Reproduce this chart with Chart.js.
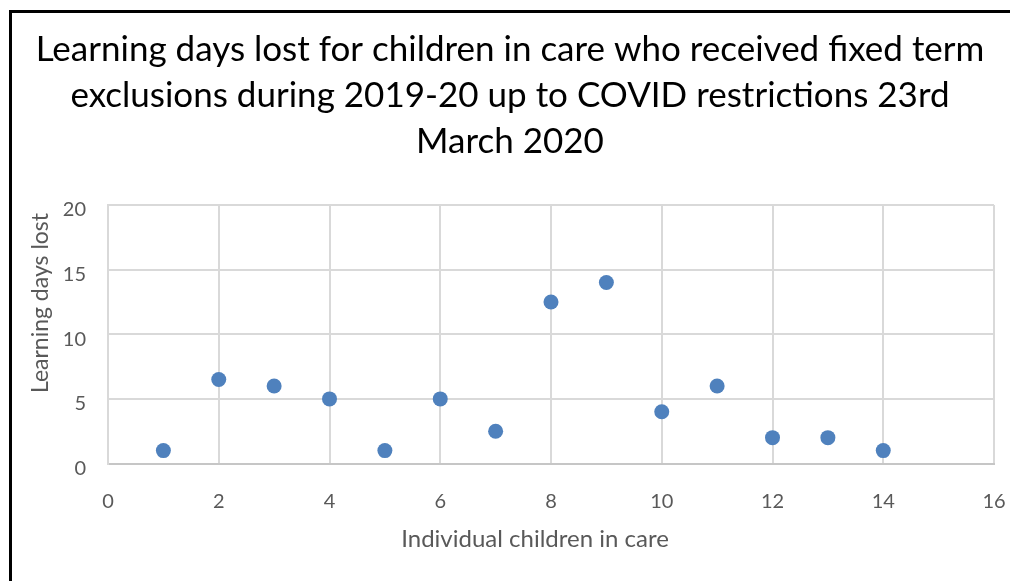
<!DOCTYPE html>
<html>
<head>
<meta charset="utf-8">
<script src="https://cdn.jsdelivr.net/npm/chart.js@4/dist/chart.umd.min.js"></script>
<style>
  html, body { margin: 0; padding: 0; background: #fff; overflow: hidden; }
  #wrap { position: relative; width: 1010px; height: 581px; }
  #frame { position: absolute; left: 9px; top: 10px; width: 1100px; height: 700px;
           border-left: 3px solid #000; border-top: 3px solid #000; box-sizing: border-box; }
  canvas { position: absolute; left: 0; top: 0; }
</style>
</head>
<body>
<div id="wrap">
  <div id="frame"></div>
  <canvas id="chart" width="1010" height="581"></canvas>
</div>
<script>
// Learning days lost per child (children in care with fixed term exclusions)
const childIds = [1, 2, 3, 4, 5, 6, 7, 8, 9, 10, 11, 12, 13, 14];
const daysLost = [1, 6.5, 6, 5, 1, 5, 2.5, 12.5, 14, 4, 6, 2, 2, 1];

const titleLines = [
  'Learning days lost for children in care who received fixed term',
  'exclusions during 2019-20 up to COVID restrictions 23rd',
  'March 2020'
];
const xAxisTitle = 'Individual children in care';
const yAxisTitle = 'Learning days lost';

const xTicks = { min: 0, max: 16, step: 2 };
const yTicks = { min: 0, max: 20, step: 5 };

const FONT = 'Lato, "Open Sans", sans-serif';
const GREY = '#595959';

// Title and axis captions drawn on the canvas
const captions = {
  id: 'captions',
  afterDraw(chart) {
    const ctx = chart.ctx;
    ctx.save();
    ctx.fillStyle = '#000';
    ctx.font = '35px ' + FONT;
    ctx.textAlign = 'center';
    ctx.textBaseline = 'alphabetic';
    const baselines = [61, 107, 153];
    titleLines.forEach((t, i) => ctx.fillText(t, 510, baselines[i]));

    ctx.fillStyle = GREY;
    ctx.font = '24px ' + FONT;
    ctx.fillText(xAxisTitle, 535, 547);

    ctx.font = '23px ' + FONT;
    ctx.translate(48, 303);
    ctx.rotate(-Math.PI / 2);
    ctx.fillText(yAxisTitle, 0, 0);
    ctx.restore();
  }
};

new Chart(document.getElementById('chart'), {
  type: 'scatter',
  data: {
    datasets: [{
      data: childIds.map((x, i) => ({ x: x, y: daysLost[i] })),
      backgroundColor: '#4f81bd',
      borderWidth: 0,
      pointRadius: 7.5,
      pointHoverRadius: 7.5
    }]
  },
  options: {
    responsive: false,
    animation: false,
    events: [],
    layout: { padding: { top: 205, left: 0, right: 16, bottom: 0 } },
    plugins: { legend: { display: false }, title: { display: false }, tooltip: { enabled: false } },
    scales: {
      x: {
        type: 'linear',
        min: xTicks.min, max: xTicks.max,
        afterFit(scale) { scale.height = 117.5; scale.paddingLeft = 0; scale.paddingRight = 0; },
        ticks: { stepSize: xTicks.step, color: GREY, font: { family: FONT, size: 20 }, padding: 26 },
        grid: { color: '#d9d9d9', lineWidth: 2, drawTicks: false },
        border: { color: '#c6c6c6', width: 2 }
      },
      y: {
        type: 'linear',
        min: yTicks.min, max: yTicks.max,
        afterFit(scale) { scale.width = 108; },
        ticks: { stepSize: yTicks.step, color: GREY, font: { family: FONT, size: 20 }, padding: 22, labelOffset: 5 },
        grid: { color: '#d9d9d9', lineWidth: 2, drawTicks: false },
        border: { color: '#d9d9d9', width: 2 }
      }
    }
  },
  plugins: [captions]
});
</script>
</body>
</html>
